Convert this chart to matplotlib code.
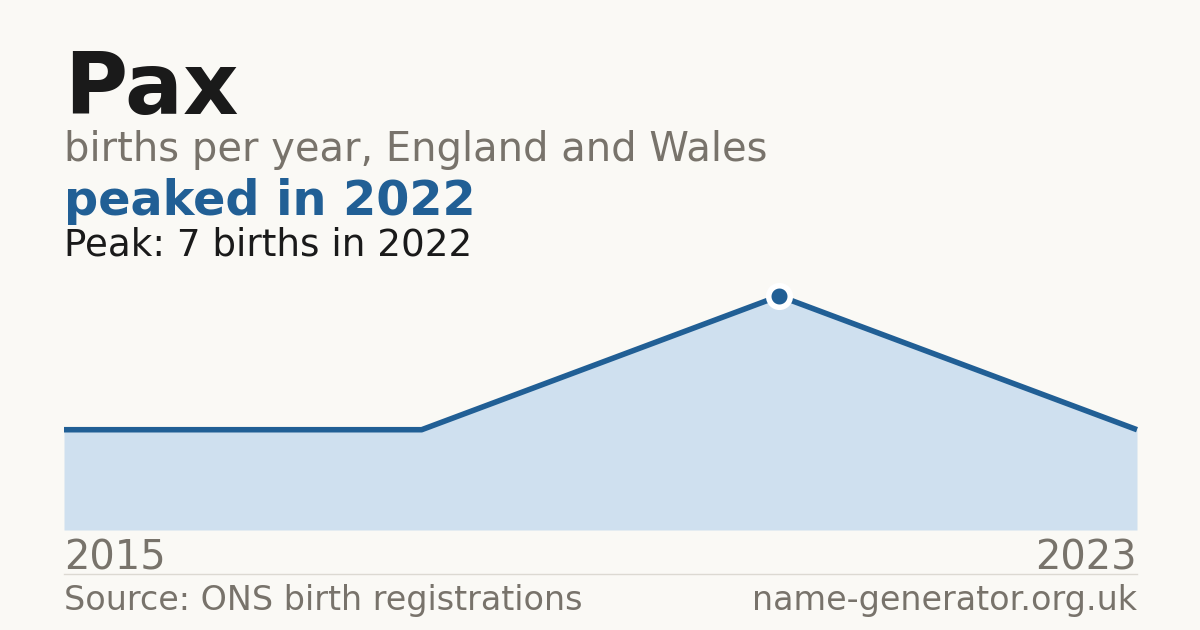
import matplotlib
matplotlib.use("Agg")
from matplotlib import pyplot as plt

# data (points plotted evenly, first and last year labelled)
years = [2015, 2021, 2022, 2023]
births = [3, 3, 7, 3]
peak_year = 2022
peak_value = 7

bg = '#faf9f5'
blue = '#215f95'
fill = '#cfe0ef'
grey = '#78736b'

W, H = 1200, 630
plt.rcParams['font.family'] = ['DejaVu Sans']
fig = plt.figure(figsize=(W / 100, H / 100), dpi=100, facecolor=bg)

def px(x, y):
    return x / W, 1 - y / H

# chart area
left, right, top, bottom = 64, 1137, 296, 530
ax = fig.add_axes([left / W, 1 - bottom / H, (right - left) / W, (bottom - top) / H])
ax.set_facecolor(bg)
xs = list(range(len(years)))
ax.fill_between(xs, births, 0, color=fill, lw=0)
ax.plot(xs, births, color=blue, lw=4.0, clip_on=False, solid_capstyle='butt')
pi = years.index(peak_year)
ax.plot(xs[pi], births[pi], 'o', ms=15.5, mfc=blue, mec='white', mew=4, clip_on=False, zorder=5)
ax.set_xlim(xs[0], xs[-1])
ax.set_ylim(0, peak_value)
ax.axis('off')

# titles
fig.text(*px(64, 114), 'Pax', fontsize=62, fontweight='bold', color='#1a1a1a', va='baseline')
fig.text(*px(64, 161), 'births per year, England and Wales', fontsize=28.8, color=grey, va='baseline')
fig.text(*px(64, 215), 'peaked in 2022', fontsize=34.4, fontweight='bold', color=blue, va='baseline')
fig.text(*px(64, 255), f'Peak: {peak_value} births in {peak_year}', fontsize=26.8, color='#1a1a1a', va='baseline')

# x labels
fig.text(*px(64, 570), str(years[0]), fontsize=28.8, color=grey, va='baseline')
fig.text(*px(1137, 570), str(years[-1]), fontsize=28.8, color=grey, va='baseline', ha='right')

# separator and footer
fig.add_artist(plt.Line2D([64 / W, 1137 / W], [1 - 574 / H] * 2, color='#dcd9d2', lw=1))
fig.text(*px(64, 610), 'Source: ONS birth registrations', fontsize=24, color=grey, va='baseline')
fig.text(*px(1137, 610), 'name-generator.org.uk', fontsize=24, color=grey, va='baseline', ha='right')

fig.savefig('out.png', dpi=100, facecolor=bg)
